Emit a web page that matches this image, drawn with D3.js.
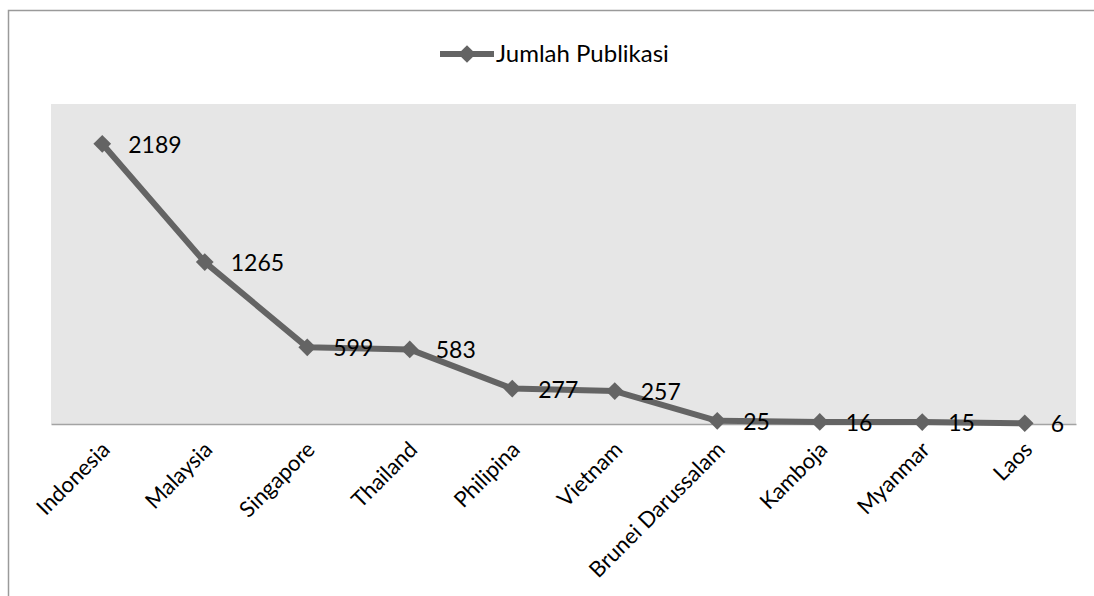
<!DOCTYPE html>
<html>
<head>
<meta charset="utf-8">
<script src="https://cdn.jsdelivr.net/npm/d3@7"></script>
<style>
  html, body { margin: 0; padding: 0; background: #fff; }
  svg { display: block; font-family: Lato, "Noto Sans", sans-serif; }
</style>
</head>
<body>
<div id="chart"></div>
<script>
const countries = ['Indonesia', 'Malaysia', 'Singapore', 'Thailand', 'Philipina',
  'Vietnam', 'Brunei Darussalam', 'Kamboja', 'Myanmar', 'Laos'];
const publications = [2189, 1265, 599, 583, 277, 257, 25, 16, 15, 6];
const seriesName = 'Jumlah Publikasi';

const width = 1094, height = 596;
const plot = { left: 51, right: 1076, top: 104, bottom: 424 };
const lineColor = '#646464';

const svg = d3.select('#chart').append('svg')
  .attr('width', width)
  .attr('height', height);

// outer frame (right and bottom edges fall outside the picture)
svg.append('rect')
  .attr('x', 8.5).attr('y', 10.5)
  .attr('width', 1200).attr('height', 700)
  .attr('fill', 'none')
  .attr('stroke', '#9a9a9a')
  .attr('stroke-width', 1.5);

const x = d3.scaleBand()
  .domain(countries)
  .range([plot.left, plot.right]);

const y = d3.scaleLinear()
  .domain([0, 2500])
  .range([plot.bottom, plot.top]);

// plot background
svg.append('rect')
  .attr('x', plot.left).attr('y', plot.top)
  .attr('width', plot.right - plot.left)
  .attr('height', plot.bottom - plot.top)
  .attr('fill', '#e6e6e6');

// x axis
const xAxis = svg.append('g')
  .attr('transform', `translate(0,${plot.bottom})`)
  .call(d3.axisBottom(x).tickSize(0).tickPadding(0));
xAxis.select('.domain').attr('stroke', '#a3a3a3').attr('stroke-width', 1.5);
xAxis.selectAll('text')
  .attr('font-size', 22)
  .attr('font-family', 'Lato, "Noto Sans", sans-serif')
  .attr('fill', '#000')
  .attr('text-anchor', 'end')
  .attr('dy', 0)
  .attr('transform', 'translate(9,27) rotate(-45)');

const cx = d => x(d) + x.bandwidth() / 2;
const pts = countries.map((c, i) => ({ c, v: publications[i] }));

// line
svg.append('path')
  .datum(pts)
  .attr('fill', 'none')
  .attr('stroke', lineColor)
  .attr('stroke-width', 6)
  .attr('stroke-linejoin', 'round')
  .attr('d', d3.line().x(d => cx(d.c)).y(d => y(d.v)));

// markers
const diamond = d3.symbol().type(d3.symbolDiamond2).size(200);
svg.selectAll('.marker')
  .data(pts)
  .enter()
  .append('path')
  .attr('class', 'marker')
  .attr('transform', d => `translate(${cx(d.c)},${y(d.v)})`)
  .attr('d', diamond)
  .attr('fill', lineColor);

// data labels
svg.selectAll('.label')
  .data(pts)
  .enter()
  .append('text')
  .attr('class', 'label')
  .attr('x', d => cx(d.c) + 26)
  .attr('y', d => y(d.v) + 9)
  .attr('font-size', 23)
  .attr('fill', '#000')
  .text(d => d.v);

// legend
const legend = svg.append('g').attr('transform', 'translate(440,54)');
legend.append('line')
  .attr('x1', 0).attr('x2', 54)
  .attr('stroke', lineColor)
  .attr('stroke-width', 6);
legend.append('path')
  .attr('transform', 'translate(27,0)')
  .attr('d', diamond)
  .attr('fill', lineColor);
legend.append('text')
  .attr('x', 56).attr('y', 8)
  .attr('font-size', 24)
  .attr('fill', '#000')
  .text(seriesName);
</script>
</body>
</html>
